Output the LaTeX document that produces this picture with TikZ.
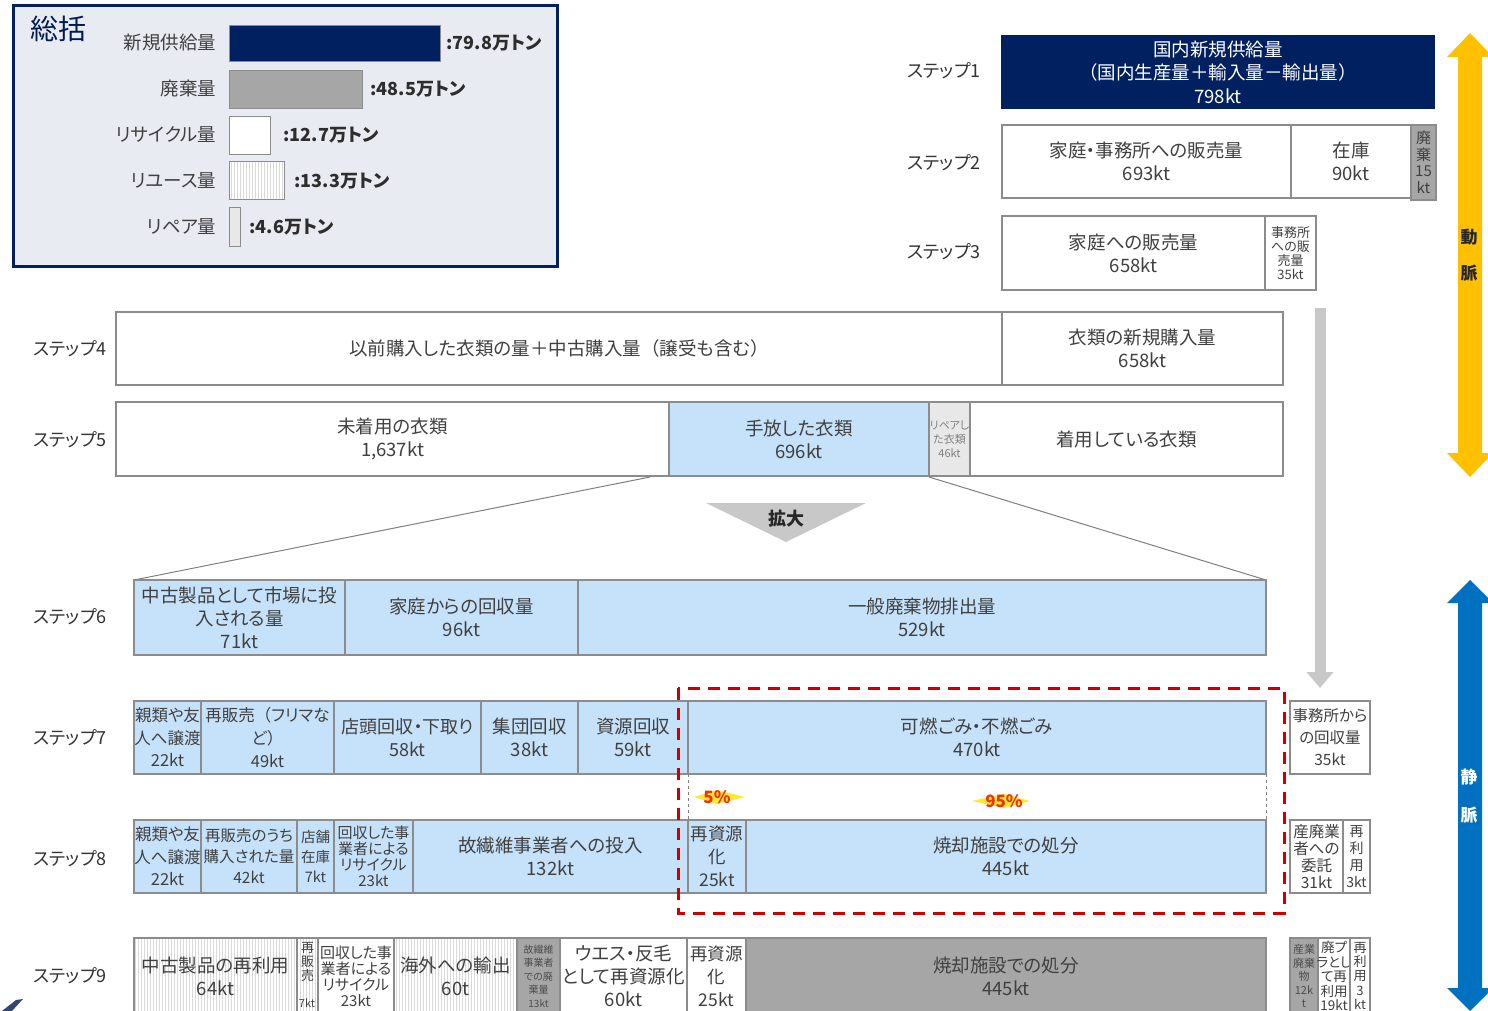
\documentclass[tikz,border=0pt]{standalone}
\usepackage{fontspec}
\setmainfont{Noto Sans CJK JP}[RawFeature=+palt]
\newfontfamily\nopalt{Noto Sans CJK JP}
\usetikzlibrary{patterns,arrows.meta}
\definecolor{navy}{RGB}{0,32,96}
\definecolor{sumbg}{RGB}{233,235,243}
\definecolor{lblue}{RGB}{198,226,250}
\definecolor{wgray}{RGB}{166,166,166}
\definecolor{lgray}{RGB}{232,232,232}
\definecolor{bgray}{RGB}{140,140,140}
\definecolor{tgray}{RGB}{64,64,64}
\definecolor{orangeA}{RGB}{255,192,0}
\definecolor{blueA}{RGB}{0,112,192}
\definecolor{redD}{RGB}{204,0,0}
\definecolor{agray}{RGB}{200,200,200}
\definecolor{pctred}{RGB}{240,50,10}
\newcommand{\fs}[2]{\fontsize{#1}{#2}\selectfont}
\newcommand{\lp}{{\nopalt （}}
\newcommand{\rp}{{\nopalt ）}}
\newcommand{\cell}[8]{%
  \path[cellbox,#6] (#2,#3) rectangle (#4,#5);
  \node[celltext,#7] (#1) at ({(#2+#4)/2},{(#3+#5)/2}) {#8};}
\tikzset{
  cellbox/.style={draw=bgray,line width=1.3pt},
  celltext/.style={inner sep=0pt,align=center,text=tgray,font=\fs{18.5}{23}},
  steplbl/.style={text=tgray!80!black,font=\fs{18}{20}},
  sumlbl/.style={anchor=east,text=tgray,font=\fs{18.5}{20}},
  sumval/.style={anchor=west,text=tgray!70!black,font=\fs{18}{20}\bfseries},
  stripes/.style={pattern=vertical lines,pattern color=gray!30},
  blueC/.style={fill=lblue},
  grayC/.style={fill=wgray},
  zoomline/.style={draw=gray,line width=1pt},
  pct/.style={text=pctred,font=\fs{17}{18}\bfseries},
  glow/.style={fill=yellow!85!orange,opacity=0.8}
}
\begin{document}
\begin{tikzpicture}[x=1pt,y=-1pt]
\useasboundingbox[fill=white] (0,0) rectangle (1488,1011);

% ---------- summary ----------
\draw[line width=3pt,draw=navy,fill=sumbg] (13,6) rectangle (557,266);
\node[text=navy!85!black,font=\fs{28}{30}] (sumtitle) at (58,29) {総括};
\node[sumlbl] (l1) at (220,43) {新規供給量};
\node[sumlbl] (l2) at (220,89) {廃棄量};
\node[sumlbl] (l3) at (220,135) {リサイクル量};
\node[sumlbl] (l4) at (220,181) {リユース量};
\node[sumlbl] (l5) at (220,227) {リペア量};
\draw[draw=bgray,line width=1pt,fill=navy] (229,26) rectangle (440,62);
\draw[draw=bgray,line width=1pt,fill=wgray] (229,71) rectangle (362,109);
\draw[draw=bgray,line width=1pt,fill=white] (229,117) rectangle (270,155);
\fill[white] (229,162) rectangle (284,200);
\draw[draw=bgray,line width=1pt,stripes] (229,162) rectangle (284,200);
\draw[draw=bgray,line width=1pt,fill=lgray] (229,208) rectangle (240,246);
\node[sumval] (v1) at (443,43) {:79.8万トン};
\node[sumval] (v2) at (367,89) {:48.5万トン};
\node[sumval] (v3) at (280,135) {:12.7万トン};
\node[sumval] (v4) at (291,181) {:13.3万トン};
\node[sumval] (v5) at (246,227) {:4.6万トン};

% ---------- step labels ----------
\node[steplbl] (st1) at (944,71) {ステップ1};
\node[steplbl] (st2) at (944,163) {ステップ2};
\node[steplbl] (st3) at (944,252) {ステップ3};
\node[steplbl] (st4) at (70,349) {ステップ4};
\node[steplbl] (st5) at (70,440) {ステップ5};
\node[steplbl] (st6) at (70,617) {ステップ6};
\node[steplbl] (st7) at (70,738) {ステップ7};
\node[steplbl] (st8) at (70,859) {ステップ8};
\node[steplbl] (st9) at (70,976) {ステップ9};

% ---------- step 1-3 ----------
\cell{s1}{1002}{36}{1434}{108}{fill=navy,draw=navy}{text=white,font=\fs{18.5}{23.5}}{国内新規供給量\\\lp 国内生産量＋輸入量－輸出量\rp\\798kt}
\cell{s2a}{1002}{125}{1291}{198}{}{}{家庭・事務所への販売量\\693kt}
\cell{s2b}{1291}{125}{1411}{198}{}{}{在庫\\90kt}
\cell{s2c}{1411}{125}{1436}{200}{grayC}{font=\fs{15}{16.5}}{廃\\棄\\15\\kt}
\cell{s3a}{1002}{216}{1265}{290}{}{}{家庭への販売量\\658kt}
\cell{s3b}{1265}{216}{1316}{290}{}{font=\fs{13}{14}}{事務所\\への販\\売量\\35kt}

% ---------- step 4-5 ----------
\cell{s4a}{116}{312}{1002}{385}{}{}{以前購入した衣類の量＋中古購入量\lp 譲受も含む\rp}
\cell{s4b}{1002}{312}{1283}{385}{}{}{衣類の新規購入量\\658kt}
\cell{s5a}{116}{402}{669}{476}{}{}{未着用の衣類\\1,637kt}
\cell{s5b}{669}{402}{929}{476}{blueC}{}{手放した衣類\\696kt}
\cell{s5c}{929}{402}{970}{476}{fill=lgray}{text=gray,font=\fs{11}{14}}{リペアし\\た衣類\\46kt}
\cell{s5d}{970}{402}{1283}{476}{}{}{着用している衣類}

% ---------- zoom ----------
\coordinate (zl) at (650,477);
\coordinate (zr) at (929,477);
\coordinate (s6tl) at (134,580);
\coordinate (s6tr) at (1266,580);
\draw[zoomline] (zl) -- (s6tl);
\draw[zoomline] (zr) -- (s6tr);
\fill[agray] (706,503) -- (866,503) -- (786,542) -- cycle;
\node[text=tgray!60!black,font=\fs{18}{20}\bfseries] (kakudai) at (786,519) {拡大};

% ---------- step 6 ----------
\cell{s6a}{134}{580}{345}{655}{blueC}{}{中古製品として市場に投\\入される量\\71kt}
\cell{s6b}{345}{580}{578}{655}{blueC}{}{家庭からの回収量\\96kt}
\cell{s6c}{578}{580}{1266}{655}{blueC}{}{一般廃棄物排出量\\529kt}

% ---------- step 7 ----------
\cell{s7a}{134}{701}{201}{774}{blueC}{font=\fs{16.5}{22.5}}{親類や友\\人へ譲渡\\22kt}
\cell{s7b}{201}{701}{334}{774}{blueC}{font=\fs{16.5}{23}}{再販売\lp フリマな\\ど\rp\\49kt}
\cell{s7c}{334}{701}{481}{774}{blueC}{font=\fs{18}{23}}{店頭回収・下取り\\58kt}
\cell{s7d}{481}{701}{578}{774}{blueC}{}{集団回収\\38kt}
\cell{s7e}{578}{701}{688}{774}{blueC}{}{資源回収\\59kt}
\cell{s7f}{688}{701}{1266}{774}{blueC}{}{可燃ごみ・不燃ごみ\\470kt}
\cell{s7g}{1290}{701}{1370}{774}{fill=white}{font=\fs{15.5}{22}}{事務所から\\の回収量\\35kt}

% ---------- 5% / 95% ----------
\coordinate (d1a) at (688,774); \coordinate (d1b) at (688,820);
\coordinate (d2a) at (1266,774); \coordinate (d2b) at (1266,820);
\draw[draw=gray,dashed,line width=0.8pt] (d1a) -- (d1b);
\draw[draw=gray,dashed,line width=0.8pt] (d2a) -- (d2b);
\fill[glow] (694,797) -- (717,790) -- (745,797) -- (717,804) -- cycle;
\node[pct] (p5) at (717,797) {5\%};
\fill[glow] (972,801) -- (1004,794) -- (1030,801) -- (1004,808) -- cycle;
\node[pct] (p95) at (1004,801) {95\%};

% ---------- step 8 ----------
\cell{s8a}{134}{820}{201}{893}{blueC}{font=\fs{16.5}{22.5}}{親類や友\\人へ譲渡\\22kt}
\cell{s8b}{201}{820}{297}{893}{blueC}{font=\fs{15.5}{21}}{再販売のうち\\購入された量\\42kt}
\cell{s8c}{297}{820}{334}{893}{blueC}{font=\fs{14.5}{20}}{店舗\\在庫\\7kt}
\cell{s8d}{334}{820}{413}{893}{blueC}{font=\fs{15}{16}}{回収した事\\業者による\\リサイクル\\23kt}
\cell{s8e}{413}{820}{688}{893}{blueC}{}{故繊維事業者への投入\\132kt}
\cell{s8f}{688}{820}{746}{893}{blueC}{font=\fs{17.5}{23}}{再資源\\化\\25kt}
\cell{s8g}{746}{820}{1266}{893}{blueC}{}{焼却施設での処分\\445kt}
\cell{s8h}{1290}{820}{1343}{893}{fill=white}{font=\fs{15.5}{17}}{産廃業\\者への\\委託\\31kt}
\cell{s8i}{1343}{820}{1370}{893}{fill=white}{font=\fs{14}{17}}{再\\利\\用\\3kt}

% ---------- red dashed frame ----------
\draw[draw=redD,line width=3pt,dash pattern=on 12pt off 8pt] (678,688) rectangle (1284,913);

% ---------- step 9 ----------
\cell{s9a}{134}{938}{297}{1014}{stripes}{}{中古製品の再利用\\64kt}
\cell{s9b}{297}{938}{318}{1014}{stripes}{font=\fs{13}{14}}{}
\node[text=tgray,font=\fs{13}{14},align=center,anchor=north] (s9bt) at (307.5,939) {再\\販\\売};
\node[text=tgray,font=\fs{11}{12}] (s9bv) at (307,1003) {7kt};
\cell{s9c}{318}{938}{394}{1014}{fill=white}{font=\fs{15}{16}}{回収した事\\業者による\\リサイクル\\23kt}
\cell{s9d}{394}{938}{517}{1014}{stripes}{}{海外への輸出\\60t}
\cell{s9e}{517}{938}{560}{1014}{grayC}{text=gray!60!black,font=\fs{10}{13.5}}{故繊維\\事業者\\での廃\\棄量\\13kt}
\cell{s9f}{560}{938}{687}{1014}{fill=white}{}{ウエス・反毛\\として再資源化\\60kt}
\cell{s9g}{687}{938}{746}{1014}{fill=white}{font=\fs{17.5}{23}}{再資源\\化\\25kt}
\cell{s9h}{746}{938}{1266}{1014}{grayC}{}{焼却施設での処分\\445kt}
\cell{s9i}{1290}{938}{1318}{1014}{grayC}{text=gray!60!black,font=\fs{11}{13.5}}{産業\\廃棄\\物\\12k\\t}
\cell{s9j}{1318}{938}{1350}{1014}{fill=white}{font=\fs{13.5}{14.5}}{廃プ\\ラとし\\て再\\利用\\19kt}
\cell{s9k}{1350}{938}{1370}{1014}{fill=white}{font=\fs{13}{14.2}}{再\\利\\用\\3\\kt}

% ---------- gray vertical arrow ----------
\coordinate (ga1) at (1320,308);
\coordinate (ga2) at (1320,688);
\draw[draw=agray,line width=11pt,-{Triangle[width=26pt,length=16pt]}] (ga1) -- (ga2);

% ---------- side arrows ----------
\fill[orangeA] (1470,33) -- (1493,57) -- (1482,57) -- (1482,453) -- (1493,453) -- (1470,477)
  -- (1447,453) -- (1458,453) -- (1458,57) -- (1447,57) -- cycle;
\node[text=tgray!60!black,font=\fs{17}{18}\bfseries] (dou) at (1469,237) {動};
\node[text=tgray!60!black,font=\fs{17}{18}\bfseries] (myaku1) at (1469,273) {脈};
\fill[blueA] (1470,580) -- (1493,603) -- (1482,603) -- (1482,988) -- (1493,988) -- (1470,1011)
  -- (1447,988) -- (1458,988) -- (1458,603) -- (1447,603) -- cycle;
\node[text=white,font=\fs{17}{18}\bfseries] (sei) at (1469,777) {静};
\node[text=white,font=\fs{17}{18}\bfseries] (myaku2) at (1469,815) {脈};

% ---------- corner fragment ----------
\fill[navy!60!gray] (2,1011) -- (16,1000) -- (23,999) -- (12,1011) -- cycle;
\end{tikzpicture}
\end{document}
